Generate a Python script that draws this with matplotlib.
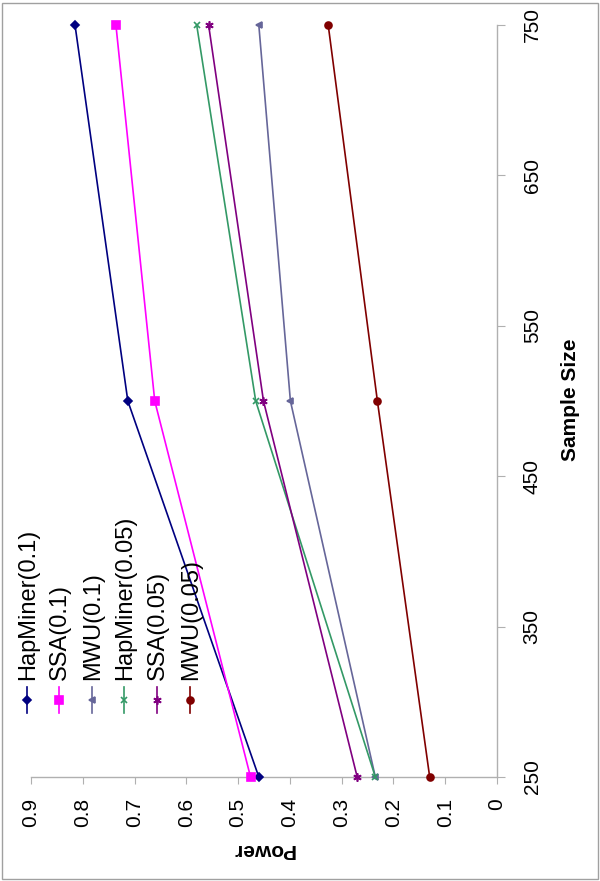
import numpy as np
import matplotlib.pyplot as plt
from matplotlib.lines import Line2D
from matplotlib.patches import Rectangle

plt.rcParams['font.family'] = ['Liberation Sans', 'DejaVu Sans']

sizes = [250, 500, 750]
names = ['HapMiner(0.1)', 'SSA(0.1)', 'MWU(0.1)', 'HapMiner(0.05)', 'SSA(0.05)', 'MWU(0.05)']
hapminer_01 = [0.46, 0.713, 0.815]
ssa_01 = [0.476, 0.661, 0.736]
mwu_01 = [0.235, 0.399, 0.46]
hapminer_005 = [0.235, 0.466, 0.58]
ssa_005 = [0.27, 0.451, 0.557]
mwu_005 = [0.13, 0.231, 0.326]
power_ticks = [0.9, 0.8, 0.7, 0.6, 0.5, 0.4, 0.3, 0.2, 0.1, 0]
size_ticks = [250, 350, 450, 550, 650, 750]

series = [hapminer_01, ssa_01, mwu_01, hapminer_005, ssa_005, mwu_005]
colors = ['#000080', '#ff00ff', '#666699', '#339966', '#800080', '#800000']
markers = ['D', 's', '<', 'x', (6, 2, 0), 'o']
msizes = [4.5, 5.5, 5, 5, 6, 5]

W, H = 600, 881
fig = plt.figure(figsize=(6, 8.81), dpi=100)
# chart is drawn turned a quarter turn: power runs along x, sample size along y
ax = fig.add_axes([31 / W, 1 - 777 / H, (497 - 31) / W, (777 - 25) / H])

for vals, c, m, ms in zip(series, colors, markers, msizes):
    ax.plot(vals, sizes, color=c, lw=1.2, marker=m, ms=ms, mew=1.2,
            clip_on=False, zorder=3)

ax.set_xlim(0.9, 0)
ax.set_ylim(250, 750)
ax.set_xticks(power_ticks)
ax.set_xticklabels([f'{t:g}' for t in power_ticks], rotation=90, fontsize=15)
ax.set_yticks(size_ticks)
ax.set_yticklabels([str(t) for t in size_ticks], rotation=90, va='center', fontsize=15)
ax.yaxis.tick_right()
for s in ['top', 'left']:
    ax.spines[s].set_visible(False)
for s in ['bottom', 'right']:
    ax.spines[s].set_color('#b0b0b0')
    ax.spines[s].set_linewidth(1)
ax.tick_params(axis='x', direction='out', length=5, color='#b0b0b0', pad=10)
ax.tick_params(axis='y', direction='out', length=5.5, color='#b0b0b0', pad=13)

fig.text(263 / W, 1 - 850 / H, 'Power', rotation=180, ha='center', va='center',
         fontsize=15, fontweight='bold')
fig.text(570 / W, 1 - 400 / H, 'Sample Size', rotation=90, ha='center', va='center',
         fontsize=15, fontweight='bold')

# legend, turned like the rest of the chart
leg_x = [27, 59, 92, 124, 157, 190]
for i, (name, c, m, ms) in enumerate(zip(names, colors, markers, msizes)):
    x = leg_x[i] / W
    fig.add_artist(Line2D([x, x], [1 - 687 / H, 1 - 713 / H], color=c, lw=1.2,
                          transform=fig.transFigure))
    fig.add_artist(Line2D([x], [1 - 700 / H], color=c, marker=m, ms=ms, mew=1.2,
                          transform=fig.transFigure))
    fig.text(x + 1 / W, 1 - 680 / H, name, rotation=90, ha='center', va='bottom',
             fontsize=17)

fig.add_artist(Rectangle((2 / W, 2 / H), (W - 4) / W, (H - 5) / H, fill=False,
                         edgecolor='#a0a0a0', lw=1, transform=fig.transFigure))

fig.savefig('out.png', dpi=100)
